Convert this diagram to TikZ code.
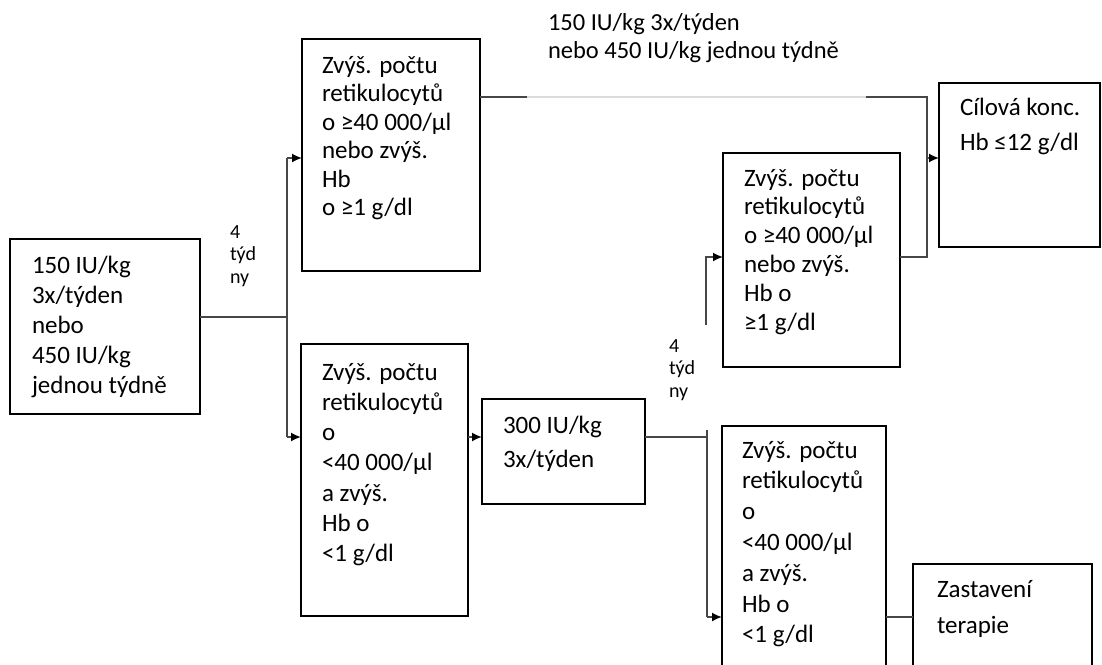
\documentclass[tikz,border=0pt]{standalone}
\usepackage{fontspec}
\setmainfont{Carlito}
\usetikzlibrary{arrows.meta}
\newcommand{\flowtxt}[3]{\parbox[t]{300pt}{\fontsize{#1}{#2}\selectfont\raggedright #3}}
\begin{document}
\begin{tikzpicture}[x=1pt,y=-1pt,
  box/.style={draw=black, line width=1.7pt, anchor=north west, inner sep=0pt, outer sep=0pt},
  txt/.style={anchor=base west, inner sep=0pt, outer sep=0pt},
  conn/.style={draw=black!72, line width=1.7pt},
  arr/.style={conn, -{Latex[length=10pt,width=9pt,color=black]}},
  faint/.style={draw=black!14, line width=1.7pt}]
\useasboundingbox (0,0) rectangle (1102,664);
\clip (0,0) rectangle (1102,664);
\fill[white] (0,0) rectangle (1102,664);

% boxes
\node[box, minimum width=190pt, minimum height=175pt] (A) at (10,239) {};
\node[box, minimum width=178pt, minimum height=232pt] (B) at (302,39) {};
\node[box, minimum width=167pt, minimum height=272pt] (C) at (301,344) {};
\node[box, minimum width=177pt, minimum height=214pt] (D) at (723,153) {};
\node[box, minimum width=163pt, minimum height=105pt] (E) at (482,399) {};
\node[box, minimum width=164pt, minimum height=262pt] (F) at (722,426) {};
\node[box, minimum width=179pt, minimum height=122pt] (G) at (913,564) {};
\node[box, minimum width=161pt, minimum height=164pt] (T) at (939,83) {};

% texts
\node[txt] (At) at (32,273) {\flowtxt{25}{30}{150 IU/kg\\3x/týden\\nebo\\450 IU/kg\\jednou týdně}};
\node[txt] (Bt) at (322,73) {\flowtxt{25}{28.5}{Zvýš. počtu\\retikulocytů\\o ≥40 000/µl\\nebo zvýš.\\Hb\\o ≥1 g/dl}};
\node[txt] (Ct) at (322,380) {\flowtxt{25}{30.3}{Zvýš. počtu\\retikulocytů\\o\\<40 000/µl\\a zvýš.\\Hb o\\<1 g/dl}};
\node[txt] (Dt) at (744,186) {\flowtxt{25}{28.8}{Zvýš. počtu\\retikulocytů\\o ≥40 000/µl\\nebo zvýš.\\Hb o\\≥1 g/dl}};
\node[txt] (Et) at (503,433) {\flowtxt{25}{34}{300 IU/kg\\3x/týden}};
\node[txt] (Ft) at (742,458) {\flowtxt{25}{30.8}{Zvýš. počtu\\retikulocytů\\o\\<40 000/µl\\a zvýš.\\Hb o\\<1 g/dl}};
\node[txt] (Gt) at (937,597) {\flowtxt{25}{36}{Zastavení\\terapie}};
\node[txt] (Tt) at (960,115) {\flowtxt{25}{35}{Cílová konc.\\Hb ≤12 g/dl}};
\node[txt] (top) at (548,30) {\flowtxt{24.5}{28}{150 IU/kg 3x/týden\\nebo 450 IU/kg jednou týdně}};
\node[txt] (L1) at (230,238) {\flowtxt{20}{22.5}{4\\týd\\ny}};
\node[txt] (L2) at (669,352) {\flowtxt{20}{22.5}{4\\týd\\ny}};

% connectors
\coordinate (j1) at (287,317);
\coordinate (aB) at (287,158);
\coordinate (aC) at (287,437);
\draw[conn] (A.east |- j1) -- (j1);
\draw[conn] (aB) -- (aC);
\draw[arr] (aB) -- (B.west |- aB);
\draw[arr] (aC) -- (C.west |- aC);
\draw[arr] (C.east |- aC) -- (E.west |- aC);

\coordinate (j2) at (707,437);
\coordinate (j2t) at (707,430);
\coordinate (aF) at (707,617);
\draw[conn] (E.east |- j2) -- (j2);
\draw[conn] (j2t) -- (aF);
\draw[arr] (aF) -- (F.west |- aF);
\draw[conn] (F.east |- aF) -- (G.west |- aF);

\coordinate (d0) at (706,325);
\coordinate (aD) at (706,257);
\draw[arr] (d0) -- (aD) -- (D.west |- aD);

\coordinate (t1) at (527,97);
\coordinate (t2) at (866,97);
\coordinate (t3) at (927,97);
\coordinate (t4) at (927,257);
\coordinate (aT) at (927,158);
\draw[conn] (B.east |- t1) -- (t1);
\draw[faint] (t1) -- (t2);
\draw[conn] (t2) -- (t3) -- (t4) -- (D.east |- t4);
\draw[arr] (aT) -- (T.west |- aT);
\end{tikzpicture}
\end{document}
